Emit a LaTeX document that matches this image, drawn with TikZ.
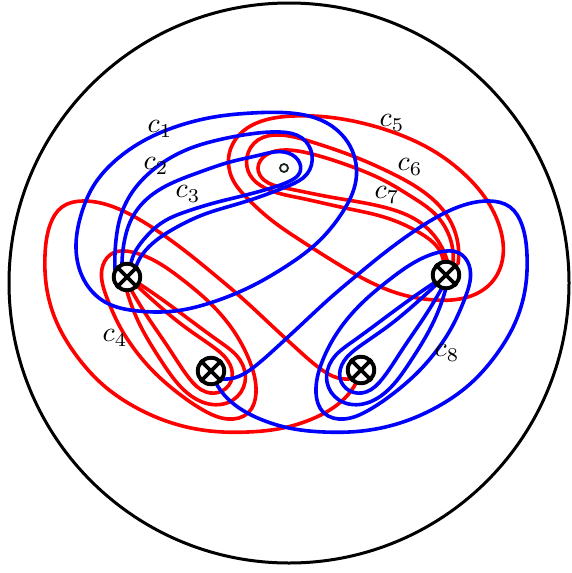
\documentclass[tikz,border=0pt]{standalone}
\IfFileExists{tikzlibraryhobby.code.tex}{%
  \usetikzlibrary{hobby}%
  \tikzset{openc/.style={hobby}, closedc/.style={closed hobby}}%
}{%
  \tikzset{openc/.style={smooth, tension=0.75}, closedc/.style={smooth cycle, tension=0.75}}%
}
\newcommand\sidesystem{%
 \draw plot[openc] coordinates {(355,378) (338,378) (318,367) (296,348) (270,324) (243,299) (216,276) (189,254) (162,234) (135,217) (108,205) (83,201) (62,207) (50,225) (45,255) (47,290) (57,323) (76,355) (102,384) (135,407) (172,423) (210,431) (248,432) (283,428) (312,419) (337,405) (351,391) (357,381)};
 \draw plot[closedc] coordinates {(103,265) (113,253) (132,252) (157,262) (183,280) (210,303) (233,330) (250,362) (256,393) (248,413) (228,419) (203,410) (178,393) (154,372) (135,350) (119,325) (107,298)};
 \draw plot[openc] coordinates {(129,286) (147,316) (170,350) (189,378) (206,392) (222,391) (232,378) (228,361) (212,346) (185,327) (157,304) (133,282)};
 \draw plot[openc] coordinates {(126,288) (140,325) (162,362) (185,391) (209,404) (233,400) (245,382) (240,360) (220,342) (190,320) (160,298) (135,281)};
}
\begin{document}
\begin{tikzpicture}[x=1pt,y=-1pt,
  curve/.style={line width=3.6pt, line cap=round, line join=round},
  rc/.style={curve, draw=red},
  bc/.style={curve, draw=blue},
  punct/.style={circle, draw=black, fill=white, line width=3.9pt, minimum size=26.5pt, inner sep=0pt},
  lab/.style={inner sep=0pt, scale=2.8}]
\useasboundingbox (0,0) rectangle (571,573);
\node[circle, draw=black, line width=3pt, minimum size=560pt, inner sep=0pt] (disk) at (289,283) {};
% red systems (c4 side)
\begin{scope}[rc]
 \sidesystem
\end{scope}
% c5
\draw[rc] plot[closedc] coordinates {(232,178) (229,155) (240,134) (262,121) (293,116) (327,117) (362,123) (398,134) (432,150) (462,172) (486,199) (500,228) (503,256) (492,282) (468,297) (435,300) (400,294) (366,280) (333,261) (300,240) (270,219) (248,199)};
% c6
\draw[rc] plot[openc] coordinates {(458,264) (456,235) (443,210) (418,188) (387,171) (350,155) (312,142) (280,135) (258,140) (247,157) (250,175) (265,188) (300,198) (345,208) (387,218) (420,233) (438,248) (444,264)};
% c7
\draw[rc] plot[openc] coordinates {(453,264) (450,238) (436,215) (412,197) (387,182) (350,166) (312,154) (285,150) (266,155) (258,168) (264,180) (285,188) (330,197) (387,208) (418,221) (436,238) (448,264)};
% blue mirrored system (c8 side)
\begin{scope}[xshift=572pt, xscale=-1, bc]
 \sidesystem
\end{scope}
% c1
\draw[bc] plot[closedc] coordinates {(76,248) (84,280) (105,302) (138,311) (175,311) (213,302) (250,287) (285,267) (317,243) (342,213) (356,180) (350,146) (325,122) (290,113) (252,113) (214,117) (178,126) (145,140) (116,160) (94,185) (81,215)};
% c2
\draw[bc] plot[openc] coordinates {(115,270) (116,240) (122,212) (136,187) (158,166) (186,150) (218,140) (250,134) (280,132) (302,138) (312,155) (307,174) (288,186) (262,196) (234,205) (205,214) (177,227) (153,243) (140,258) (135,270)};
% c3
\draw[bc] plot[openc] coordinates {(122,270) (124,243) (132,218) (148,198) (172,183) (200,172) (230,162) (260,155) (284,152) (298,160) (300,172) (290,181) (268,189) (242,196) (214,203) (188,211) (163,222) (145,238) (134,254) (130,270)};
% punctures
\foreach \n/\p in {A/{(127,277)}, B/{(211,371)}, C/{(361,370)}, D/{(446,275)}}{
  \node[punct] (\n) at \p {};
  \draw[line width=3.6pt] (\n.north west) -- (\n.south east) (\n.north east) -- (\n.south west);
}
\node[circle, draw={rgb,255:red,25;green,35;blue,25}, line width=1.8pt, minimum size=8pt, inner sep=0pt] (P) at (284,168) {};
% labels
\node[lab] (l1) at (160,129) {$c_1$};
\node[lab] (l2) at (156,166) {$c_2$};
\node[lab] (l3) at (188,194) {$c_3$};
\node[lab] (l4) at (115,338) {$c_4$};
\node[lab] (l5) at (392,123) {$c_5$};
\node[lab] (l6) at (410,167) {$c_6$};
\node[lab] (l7) at (387,195) {$c_7$};
\node[lab] (l8) at (447,353) {$c_8$};
\end{tikzpicture}
\end{document}
